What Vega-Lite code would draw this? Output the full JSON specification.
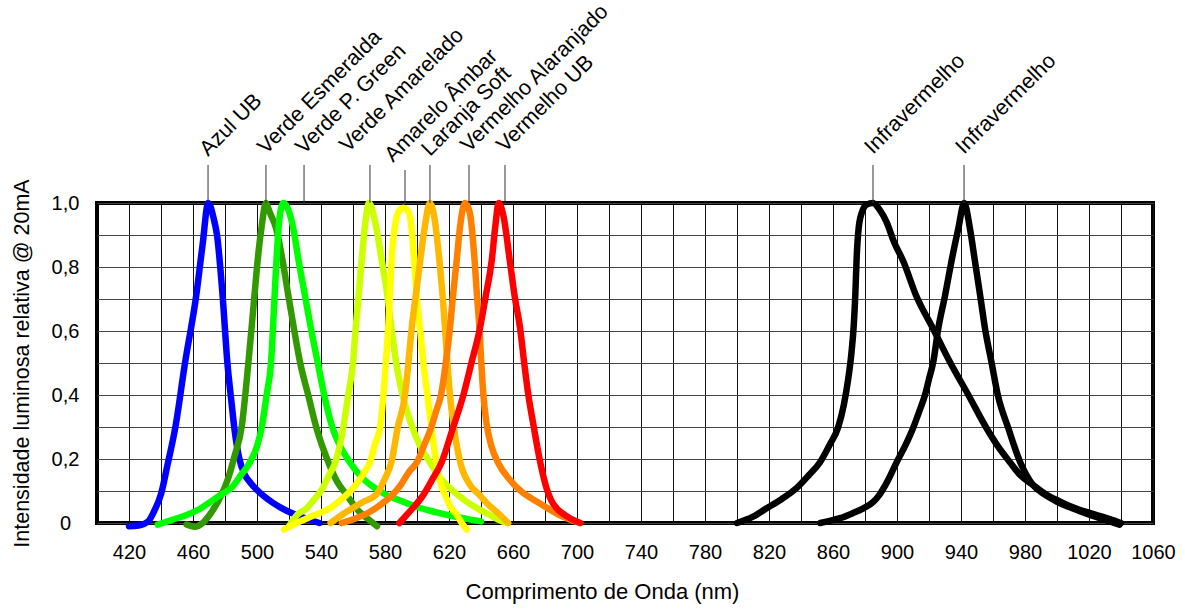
{
  "$schema": "https://vega.github.io/schema/vega-lite/v6.json",
  "autosize": "none",
  "width": 1056,
  "height": 320,
  "padding": {"left": 97, "top": 203, "right": 32, "bottom": 88},
  "background": "white",
  "config": {
    "font": "Liberation Sans",
    "view": {"stroke": "black", "strokeWidth": 4},
    "axis": {"labelFont": "Liberation Sans", "titleFont": "Liberation Sans", "labelColor": "black", "titleColor": "black", "titleFontWeight": "normal"}
  },
  "datasets": {
    "curves": [
      {"s": "Azul UB", "nm": 420, "v": -0.01},
      {"s": "Azul UB", "nm": 426, "v": -0.008},
      {"s": "Azul UB", "nm": 432, "v": 0.005},
      {"s": "Azul UB", "nm": 436, "v": 0.04},
      {"s": "Azul UB", "nm": 440, "v": 0.09},
      {"s": "Azul UB", "nm": 444, "v": 0.18},
      {"s": "Azul UB", "nm": 449, "v": 0.3},
      {"s": "Azul UB", "nm": 455, "v": 0.5},
      {"s": "Azul UB", "nm": 462, "v": 0.71},
      {"s": "Azul UB", "nm": 466, "v": 0.87},
      {"s": "Azul UB", "nm": 469.5, "v": 1.0},
      {"s": "Azul UB", "nm": 473, "v": 0.95},
      {"s": "Azul UB", "nm": 475, "v": 0.9},
      {"s": "Azul UB", "nm": 478.5, "v": 0.71},
      {"s": "Azul UB", "nm": 481.5, "v": 0.5},
      {"s": "Azul UB", "nm": 484, "v": 0.38},
      {"s": "Azul UB", "nm": 486, "v": 0.29},
      {"s": "Azul UB", "nm": 489, "v": 0.2},
      {"s": "Azul UB", "nm": 492, "v": 0.155},
      {"s": "Azul UB", "nm": 496, "v": 0.125},
      {"s": "Azul UB", "nm": 500, "v": 0.103},
      {"s": "Azul UB", "nm": 504, "v": 0.085},
      {"s": "Azul UB", "nm": 510, "v": 0.063},
      {"s": "Azul UB", "nm": 516, "v": 0.045},
      {"s": "Azul UB", "nm": 527, "v": 0.02},
      {"s": "Azul UB", "nm": 539, "v": 0.0},

      {"s": "Verde Esmeralda", "nm": 456, "v": -0.005},
      {"s": "Verde Esmeralda", "nm": 461, "v": -0.012},
      {"s": "Verde Esmeralda", "nm": 466, "v": 0.0},
      {"s": "Verde Esmeralda", "nm": 471.7, "v": 0.035},
      {"s": "Verde Esmeralda", "nm": 477, "v": 0.08},
      {"s": "Verde Esmeralda", "nm": 482, "v": 0.14},
      {"s": "Verde Esmeralda", "nm": 486, "v": 0.21},
      {"s": "Verde Esmeralda", "nm": 490.4, "v": 0.3},
      {"s": "Verde Esmeralda", "nm": 494.6, "v": 0.5},
      {"s": "Verde Esmeralda", "nm": 498.4, "v": 0.71},
      {"s": "Verde Esmeralda", "nm": 501, "v": 0.85},
      {"s": "Verde Esmeralda", "nm": 503, "v": 0.93},
      {"s": "Verde Esmeralda", "nm": 505.5, "v": 1.0},
      {"s": "Verde Esmeralda", "nm": 508, "v": 0.97},
      {"s": "Verde Esmeralda", "nm": 512, "v": 0.92},
      {"s": "Verde Esmeralda", "nm": 516, "v": 0.82},
      {"s": "Verde Esmeralda", "nm": 519.6, "v": 0.71},
      {"s": "Verde Esmeralda", "nm": 523, "v": 0.61},
      {"s": "Verde Esmeralda", "nm": 527, "v": 0.5},
      {"s": "Verde Esmeralda", "nm": 532, "v": 0.4},
      {"s": "Verde Esmeralda", "nm": 537, "v": 0.3},
      {"s": "Verde Esmeralda", "nm": 544.6, "v": 0.19},
      {"s": "Verde Esmeralda", "nm": 550, "v": 0.13},
      {"s": "Verde Esmeralda", "nm": 556, "v": 0.088},
      {"s": "Verde Esmeralda", "nm": 564, "v": 0.035},
      {"s": "Verde Esmeralda", "nm": 570, "v": 0.01},
      {"s": "Verde Esmeralda", "nm": 575, "v": -0.01},

      {"s": "Verde P. Green", "nm": 438, "v": -0.005},
      {"s": "Verde P. Green", "nm": 447, "v": 0.01},
      {"s": "Verde P. Green", "nm": 456, "v": 0.025},
      {"s": "Verde P. Green", "nm": 465, "v": 0.046},
      {"s": "Verde P. Green", "nm": 472, "v": 0.07},
      {"s": "Verde P. Green", "nm": 478, "v": 0.09},
      {"s": "Verde P. Green", "nm": 484, "v": 0.11},
      {"s": "Verde P. Green", "nm": 490, "v": 0.15},
      {"s": "Verde P. Green", "nm": 495.6, "v": 0.19},
      {"s": "Verde P. Green", "nm": 500, "v": 0.24},
      {"s": "Verde P. Green", "nm": 503, "v": 0.3},
      {"s": "Verde P. Green", "nm": 506, "v": 0.4},
      {"s": "Verde P. Green", "nm": 508.75, "v": 0.5},
      {"s": "Verde P. Green", "nm": 511, "v": 0.71},
      {"s": "Verde P. Green", "nm": 512.5, "v": 0.85},
      {"s": "Verde P. Green", "nm": 514, "v": 0.95},
      {"s": "Verde P. Green", "nm": 516.5, "v": 1.0},
      {"s": "Verde P. Green", "nm": 519.5, "v": 0.98},
      {"s": "Verde P. Green", "nm": 522.7, "v": 0.92},
      {"s": "Verde P. Green", "nm": 526, "v": 0.82},
      {"s": "Verde P. Green", "nm": 530, "v": 0.71},
      {"s": "Verde P. Green", "nm": 534, "v": 0.6},
      {"s": "Verde P. Green", "nm": 538, "v": 0.5},
      {"s": "Verde P. Green", "nm": 542, "v": 0.4},
      {"s": "Verde P. Green", "nm": 547, "v": 0.3},
      {"s": "Verde P. Green", "nm": 552, "v": 0.24},
      {"s": "Verde P. Green", "nm": 558, "v": 0.19},
      {"s": "Verde P. Green", "nm": 565, "v": 0.145},
      {"s": "Verde P. Green", "nm": 572, "v": 0.115},
      {"s": "Verde P. Green", "nm": 580, "v": 0.09},
      {"s": "Verde P. Green", "nm": 591, "v": 0.067},
      {"s": "Verde P. Green", "nm": 600, "v": 0.05},
      {"s": "Verde P. Green", "nm": 611, "v": 0.035},
      {"s": "Verde P. Green", "nm": 622, "v": 0.022},
      {"s": "Verde P. Green", "nm": 632, "v": 0.012},
      {"s": "Verde P. Green", "nm": 640, "v": 0.005},

      {"s": "Verde Amarelado", "nm": 520, "v": -0.01},
      {"s": "Verde Amarelado", "nm": 525, "v": 0.025},
      {"s": "Verde Amarelado", "nm": 531, "v": 0.046},
      {"s": "Verde Amarelado", "nm": 536, "v": 0.075},
      {"s": "Verde Amarelado", "nm": 540, "v": 0.1},
      {"s": "Verde Amarelado", "nm": 545, "v": 0.15},
      {"s": "Verde Amarelado", "nm": 549, "v": 0.19},
      {"s": "Verde Amarelado", "nm": 554, "v": 0.3},
      {"s": "Verde Amarelado", "nm": 557, "v": 0.4},
      {"s": "Verde Amarelado", "nm": 560, "v": 0.5},
      {"s": "Verde Amarelado", "nm": 561.7, "v": 0.61},
      {"s": "Verde Amarelado", "nm": 563.5, "v": 0.71},
      {"s": "Verde Amarelado", "nm": 565.4, "v": 0.82},
      {"s": "Verde Amarelado", "nm": 567.5, "v": 0.93},
      {"s": "Verde Amarelado", "nm": 570, "v": 1.0},
      {"s": "Verde Amarelado", "nm": 573, "v": 0.96},
      {"s": "Verde Amarelado", "nm": 578, "v": 0.82},
      {"s": "Verde Amarelado", "nm": 581.5, "v": 0.71},
      {"s": "Verde Amarelado", "nm": 584, "v": 0.61},
      {"s": "Verde Amarelado", "nm": 587, "v": 0.5},
      {"s": "Verde Amarelado", "nm": 591, "v": 0.4},
      {"s": "Verde Amarelado", "nm": 597, "v": 0.3},
      {"s": "Verde Amarelado", "nm": 602, "v": 0.24},
      {"s": "Verde Amarelado", "nm": 608, "v": 0.19},
      {"s": "Verde Amarelado", "nm": 613, "v": 0.15},
      {"s": "Verde Amarelado", "nm": 618.5, "v": 0.119},
      {"s": "Verde Amarelado", "nm": 625, "v": 0.09},
      {"s": "Verde Amarelado", "nm": 631, "v": 0.067},
      {"s": "Verde Amarelado", "nm": 638, "v": 0.045},
      {"s": "Verde Amarelado", "nm": 645.6, "v": 0.025},
      {"s": "Verde Amarelado", "nm": 651, "v": 0.01},
      {"s": "Verde Amarelado", "nm": 656, "v": 0.0},

      {"s": "Amarelo Âmbar", "nm": 517, "v": -0.02},
      {"s": "Amarelo Âmbar", "nm": 527, "v": 0.005},
      {"s": "Amarelo Âmbar", "nm": 536, "v": 0.025},
      {"s": "Amarelo Âmbar", "nm": 545.6, "v": 0.046},
      {"s": "Amarelo Âmbar", "nm": 553, "v": 0.075},
      {"s": "Amarelo Âmbar", "nm": 560, "v": 0.108},
      {"s": "Amarelo Âmbar", "nm": 566, "v": 0.15},
      {"s": "Amarelo Âmbar", "nm": 570.6, "v": 0.19},
      {"s": "Amarelo Âmbar", "nm": 574, "v": 0.25},
      {"s": "Amarelo Âmbar", "nm": 577, "v": 0.3},
      {"s": "Amarelo Âmbar", "nm": 579, "v": 0.4},
      {"s": "Amarelo Âmbar", "nm": 580.5, "v": 0.5},
      {"s": "Amarelo Âmbar", "nm": 582, "v": 0.61},
      {"s": "Amarelo Âmbar", "nm": 583, "v": 0.71},
      {"s": "Amarelo Âmbar", "nm": 584.5, "v": 0.85},
      {"s": "Amarelo Âmbar", "nm": 586, "v": 0.92},
      {"s": "Amarelo Âmbar", "nm": 587.5, "v": 0.96},
      {"s": "Amarelo Âmbar", "nm": 589.5, "v": 0.98},
      {"s": "Amarelo Âmbar", "nm": 591.5, "v": 0.985},
      {"s": "Amarelo Âmbar", "nm": 593.5, "v": 0.98},
      {"s": "Amarelo Âmbar", "nm": 595.5, "v": 0.96},
      {"s": "Amarelo Âmbar", "nm": 597, "v": 0.9},
      {"s": "Amarelo Âmbar", "nm": 598.5, "v": 0.8},
      {"s": "Amarelo Âmbar", "nm": 599.8, "v": 0.71},
      {"s": "Amarelo Âmbar", "nm": 602, "v": 0.6},
      {"s": "Amarelo Âmbar", "nm": 604, "v": 0.5},
      {"s": "Amarelo Âmbar", "nm": 606.5, "v": 0.4},
      {"s": "Amarelo Âmbar", "nm": 609, "v": 0.3},
      {"s": "Amarelo Âmbar", "nm": 612, "v": 0.19},
      {"s": "Amarelo Âmbar", "nm": 615, "v": 0.12},
      {"s": "Amarelo Âmbar", "nm": 617.5, "v": 0.088},
      {"s": "Amarelo Âmbar", "nm": 621, "v": 0.05},
      {"s": "Amarelo Âmbar", "nm": 625, "v": 0.025},
      {"s": "Amarelo Âmbar", "nm": 628, "v": 0.0},
      {"s": "Amarelo Âmbar", "nm": 631, "v": -0.02},

      {"s": "Laranja Soft", "nm": 546, "v": 0.0},
      {"s": "Laranja Soft", "nm": 556, "v": 0.035},
      {"s": "Laranja Soft", "nm": 566, "v": 0.065},
      {"s": "Laranja Soft", "nm": 574.8, "v": 0.09},
      {"s": "Laranja Soft", "nm": 580, "v": 0.14},
      {"s": "Laranja Soft", "nm": 584, "v": 0.19},
      {"s": "Laranja Soft", "nm": 588, "v": 0.3},
      {"s": "Laranja Soft", "nm": 592.5, "v": 0.4},
      {"s": "Laranja Soft", "nm": 594.6, "v": 0.5},
      {"s": "Laranja Soft", "nm": 596.7, "v": 0.61},
      {"s": "Laranja Soft", "nm": 599.2, "v": 0.71},
      {"s": "Laranja Soft", "nm": 602, "v": 0.82},
      {"s": "Laranja Soft", "nm": 605, "v": 0.93},
      {"s": "Laranja Soft", "nm": 608, "v": 1.0},
      {"s": "Laranja Soft", "nm": 611, "v": 0.95},
      {"s": "Laranja Soft", "nm": 614, "v": 0.82},
      {"s": "Laranja Soft", "nm": 616, "v": 0.71},
      {"s": "Laranja Soft", "nm": 617.5, "v": 0.61},
      {"s": "Laranja Soft", "nm": 619, "v": 0.5},
      {"s": "Laranja Soft", "nm": 620.6, "v": 0.4},
      {"s": "Laranja Soft", "nm": 623, "v": 0.3},
      {"s": "Laranja Soft", "nm": 627, "v": 0.19},
      {"s": "Laranja Soft", "nm": 633, "v": 0.12},
      {"s": "Laranja Soft", "nm": 639, "v": 0.088},
      {"s": "Laranja Soft", "nm": 645, "v": 0.055},
      {"s": "Laranja Soft", "nm": 649.8, "v": 0.035},
      {"s": "Laranja Soft", "nm": 654, "v": 0.015},
      {"s": "Laranja Soft", "nm": 657, "v": 0.0},

      {"s": "Vermelho Alaranjado", "nm": 553, "v": 0.0},
      {"s": "Vermelho Alaranjado", "nm": 562, "v": 0.015},
      {"s": "Vermelho Alaranjado", "nm": 570.6, "v": 0.035},
      {"s": "Vermelho Alaranjado", "nm": 578, "v": 0.06},
      {"s": "Vermelho Alaranjado", "nm": 585, "v": 0.09},
      {"s": "Vermelho Alaranjado", "nm": 590, "v": 0.12},
      {"s": "Vermelho Alaranjado", "nm": 595, "v": 0.16},
      {"s": "Vermelho Alaranjado", "nm": 600, "v": 0.19},
      {"s": "Vermelho Alaranjado", "nm": 605, "v": 0.25},
      {"s": "Vermelho Alaranjado", "nm": 609, "v": 0.3},
      {"s": "Vermelho Alaranjado", "nm": 612, "v": 0.35},
      {"s": "Vermelho Alaranjado", "nm": 615, "v": 0.4},
      {"s": "Vermelho Alaranjado", "nm": 618, "v": 0.5},
      {"s": "Vermelho Alaranjado", "nm": 620.6, "v": 0.61},
      {"s": "Vermelho Alaranjado", "nm": 622.5, "v": 0.71},
      {"s": "Vermelho Alaranjado", "nm": 624.8, "v": 0.82},
      {"s": "Vermelho Alaranjado", "nm": 627, "v": 0.93},
      {"s": "Vermelho Alaranjado", "nm": 630, "v": 1.0},
      {"s": "Vermelho Alaranjado", "nm": 633, "v": 0.97},
      {"s": "Vermelho Alaranjado", "nm": 636, "v": 0.82},
      {"s": "Vermelho Alaranjado", "nm": 637.5, "v": 0.71},
      {"s": "Vermelho Alaranjado", "nm": 639, "v": 0.61},
      {"s": "Vermelho Alaranjado", "nm": 640.2, "v": 0.5},
      {"s": "Vermelho Alaranjado", "nm": 641.5, "v": 0.4},
      {"s": "Vermelho Alaranjado", "nm": 643.5, "v": 0.31},
      {"s": "Vermelho Alaranjado", "nm": 646.5, "v": 0.24},
      {"s": "Vermelho Alaranjado", "nm": 651, "v": 0.185},
      {"s": "Vermelho Alaranjado", "nm": 658, "v": 0.135},
      {"s": "Vermelho Alaranjado", "nm": 666, "v": 0.095},
      {"s": "Vermelho Alaranjado", "nm": 674.8, "v": 0.067},
      {"s": "Vermelho Alaranjado", "nm": 682, "v": 0.045},
      {"s": "Vermelho Alaranjado", "nm": 689, "v": 0.025},
      {"s": "Vermelho Alaranjado", "nm": 696, "v": 0.01},
      {"s": "Vermelho Alaranjado", "nm": 702, "v": 0.0},

      {"s": "Vermelho UB", "nm": 589, "v": 0.0},
      {"s": "Vermelho UB", "nm": 593.5, "v": 0.025},
      {"s": "Vermelho UB", "nm": 598, "v": 0.05},
      {"s": "Vermelho UB", "nm": 604, "v": 0.088},
      {"s": "Vermelho UB", "nm": 610, "v": 0.14},
      {"s": "Vermelho UB", "nm": 615.4, "v": 0.19},
      {"s": "Vermelho UB", "nm": 622, "v": 0.29},
      {"s": "Vermelho UB", "nm": 629, "v": 0.4},
      {"s": "Vermelho UB", "nm": 634, "v": 0.5},
      {"s": "Vermelho UB", "nm": 639.4, "v": 0.61},
      {"s": "Vermelho UB", "nm": 643, "v": 0.71},
      {"s": "Vermelho UB", "nm": 646.7, "v": 0.82},
      {"s": "Vermelho UB", "nm": 649, "v": 0.93},
      {"s": "Vermelho UB", "nm": 651, "v": 1.0},
      {"s": "Vermelho UB", "nm": 654, "v": 0.96},
      {"s": "Vermelho UB", "nm": 658, "v": 0.82},
      {"s": "Vermelho UB", "nm": 661, "v": 0.71},
      {"s": "Vermelho UB", "nm": 664.4, "v": 0.61},
      {"s": "Vermelho UB", "nm": 667, "v": 0.5},
      {"s": "Vermelho UB", "nm": 669.6, "v": 0.4},
      {"s": "Vermelho UB", "nm": 673, "v": 0.3},
      {"s": "Vermelho UB", "nm": 677, "v": 0.19},
      {"s": "Vermelho UB", "nm": 681, "v": 0.108},
      {"s": "Vermelho UB", "nm": 684, "v": 0.07},
      {"s": "Vermelho UB", "nm": 687.3, "v": 0.046},
      {"s": "Vermelho UB", "nm": 691, "v": 0.03},
      {"s": "Vermelho UB", "nm": 695.6, "v": 0.015},
      {"s": "Vermelho UB", "nm": 702, "v": 0.0},

      {"s": "Infravermelho 1", "nm": 800, "v": 0.0},
      {"s": "Infravermelho 1", "nm": 810, "v": 0.02},
      {"s": "Infravermelho 1", "nm": 818.5, "v": 0.046},
      {"s": "Infravermelho 1", "nm": 828, "v": 0.075},
      {"s": "Infravermelho 1", "nm": 837, "v": 0.108},
      {"s": "Infravermelho 1", "nm": 845, "v": 0.15},
      {"s": "Infravermelho 1", "nm": 851.9, "v": 0.19},
      {"s": "Infravermelho 1", "nm": 858, "v": 0.245},
      {"s": "Infravermelho 1", "nm": 863.3, "v": 0.3},
      {"s": "Infravermelho 1", "nm": 866.8, "v": 0.37},
      {"s": "Infravermelho 1", "nm": 869.5, "v": 0.45},
      {"s": "Infravermelho 1", "nm": 871.5, "v": 0.53},
      {"s": "Infravermelho 1", "nm": 873, "v": 0.62},
      {"s": "Infravermelho 1", "nm": 874, "v": 0.72},
      {"s": "Infravermelho 1", "nm": 874.8, "v": 0.83},
      {"s": "Infravermelho 1", "nm": 876, "v": 0.92},
      {"s": "Infravermelho 1", "nm": 878, "v": 0.97},
      {"s": "Infravermelho 1", "nm": 881, "v": 0.995},
      {"s": "Infravermelho 1", "nm": 885, "v": 1.0},
      {"s": "Infravermelho 1", "nm": 889, "v": 0.98},
      {"s": "Infravermelho 1", "nm": 893.5, "v": 0.94},
      {"s": "Infravermelho 1", "nm": 898, "v": 0.88},
      {"s": "Infravermelho 1", "nm": 904, "v": 0.817},
      {"s": "Infravermelho 1", "nm": 912, "v": 0.71},
      {"s": "Infravermelho 1", "nm": 922.5, "v": 0.608},
      {"s": "Infravermelho 1", "nm": 933, "v": 0.504},
      {"s": "Infravermelho 1", "nm": 944.6, "v": 0.4},
      {"s": "Infravermelho 1", "nm": 956, "v": 0.296},
      {"s": "Infravermelho 1", "nm": 963, "v": 0.24},
      {"s": "Infravermelho 1", "nm": 970.6, "v": 0.19},
      {"s": "Infravermelho 1", "nm": 977, "v": 0.15},
      {"s": "Infravermelho 1", "nm": 985, "v": 0.119},
      {"s": "Infravermelho 1", "nm": 993, "v": 0.09},
      {"s": "Infravermelho 1", "nm": 1002, "v": 0.067},
      {"s": "Infravermelho 1", "nm": 1012, "v": 0.045},
      {"s": "Infravermelho 1", "nm": 1024.8, "v": 0.025},
      {"s": "Infravermelho 1", "nm": 1033, "v": 0.012},
      {"s": "Infravermelho 1", "nm": 1040, "v": 0.0},

      {"s": "Infravermelho 2", "nm": 852, "v": 0.0},
      {"s": "Infravermelho 2", "nm": 864.4, "v": 0.015},
      {"s": "Infravermelho 2", "nm": 872, "v": 0.03},
      {"s": "Infravermelho 2", "nm": 879, "v": 0.046},
      {"s": "Infravermelho 2", "nm": 885, "v": 0.065},
      {"s": "Infravermelho 2", "nm": 889, "v": 0.088},
      {"s": "Infravermelho 2", "nm": 894, "v": 0.13},
      {"s": "Infravermelho 2", "nm": 899.8, "v": 0.19},
      {"s": "Infravermelho 2", "nm": 905, "v": 0.24},
      {"s": "Infravermelho 2", "nm": 910, "v": 0.296},
      {"s": "Infravermelho 2", "nm": 914, "v": 0.35},
      {"s": "Infravermelho 2", "nm": 917.5, "v": 0.4},
      {"s": "Infravermelho 2", "nm": 920, "v": 0.45},
      {"s": "Infravermelho 2", "nm": 922.7, "v": 0.504},
      {"s": "Infravermelho 2", "nm": 925.8, "v": 0.608},
      {"s": "Infravermelho 2", "nm": 930, "v": 0.71},
      {"s": "Infravermelho 2", "nm": 934, "v": 0.817},
      {"s": "Infravermelho 2", "nm": 938.3, "v": 0.92},
      {"s": "Infravermelho 2", "nm": 942, "v": 1.0},
      {"s": "Infravermelho 2", "nm": 945.6, "v": 0.92},
      {"s": "Infravermelho 2", "nm": 948.75, "v": 0.817},
      {"s": "Infravermelho 2", "nm": 952, "v": 0.71},
      {"s": "Infravermelho 2", "nm": 955, "v": 0.608},
      {"s": "Infravermelho 2", "nm": 959, "v": 0.504},
      {"s": "Infravermelho 2", "nm": 963, "v": 0.4},
      {"s": "Infravermelho 2", "nm": 969.6, "v": 0.296},
      {"s": "Infravermelho 2", "nm": 977, "v": 0.19},
      {"s": "Infravermelho 2", "nm": 985, "v": 0.119},
      {"s": "Infravermelho 2", "nm": 992, "v": 0.09},
      {"s": "Infravermelho 2", "nm": 999.8, "v": 0.067},
      {"s": "Infravermelho 2", "nm": 1010, "v": 0.045},
      {"s": "Infravermelho 2", "nm": 1020.6, "v": 0.025},
      {"s": "Infravermelho 2", "nm": 1030, "v": 0.01},
      {"s": "Infravermelho 2", "nm": 1039, "v": -0.005}
    ],
    "labels": [
      {"label": "Azul UB", "tnm": 469.4, "ty": 1.144, "lnm": 469.4, "lb": 1.0, "ly": 1.119},
      {"label": "Verde Esmeralda", "tnm": 505.6, "ty": 1.15, "lnm": 505.6, "lb": 1.0, "ly": 1.119},
      {"label": "Verde P. Green", "tnm": 529.4, "ty": 1.15, "lnm": 529.4, "lb": 1.0, "ly": 1.119},
      {"label": "Verde Amarelado", "tnm": 556.9, "ty": 1.156, "lnm": 570.6, "lb": 1.0, "ly": 1.119},
      {"label": "Amarelo Âmbar", "tnm": 585, "ty": 1.125, "lnm": 592.5, "lb": 1.0, "ly": 1.103},
      {"label": "Laranja Soft", "tnm": 608.1, "ty": 1.144, "lnm": 608.1, "lb": 1.0, "ly": 1.119},
      {"label": "Vermelho Alaranjado", "tnm": 632.5, "ty": 1.156, "lnm": 632.5, "lb": 1.0, "ly": 1.119},
      {"label": "Vermelho UB", "tnm": 655, "ty": 1.156, "lnm": 655, "lb": 1.0, "ly": 1.119},
      {"label": "Infravermelho", "tnm": 885, "ty": 1.15, "lnm": 885, "lb": 1.0, "ly": 1.119},
      {"label": "Infravermelho", "tnm": 941.9, "ty": 1.15, "lnm": 941.9, "lb": 1.0, "ly": 1.119}
    ]
  },
  "layer": [
    {
      "data": {"name": "curves"},
      "mark": {"type": "line", "strokeWidth": 6.5, "interpolate": "monotone", "clip": false, "strokeCap": "round", "strokeJoin": "round"},
      "encoding": {
        "x": {
          "field": "nm", "type": "quantitative",
          "scale": {"domain": [400, 1060], "nice": false, "zero": false},
          "axis": {
            "title": "Comprimento de Onda (nm)",
            "values": [420, 440, 460, 480, 500, 520, 540, 560, 580, 600, 620, 640, 660, 680, 700, 720, 740, 760, 780, 800, 820, 840, 860, 880, 900, 920, 940, 960, 980, 1000, 1020, 1040, 1060],
            "tickCount": 200,
            "format": "d",
            "labelOpacity": {"condition": {"test": "(datum.value - 420) % 40 === 0", "value": 1}, "value": 0},
            "labelFontSize": 20,
            "labelPadding": 19,
            "labelFlush": false,
            "labelOverlap": false,
            "labelBound": false,
            "titleFontSize": 22,
            "titlePadding": 19,
            "titleX": 505,
            "ticks": false,
            "tickSize": 0,
            "domain": false,
            "grid": true,
            "gridColor": "#111111",
            "gridWidth": 1,
            "gridOpacity": 1
          }
        },
        "y": {
          "field": "v", "type": "quantitative",
          "scale": {"domain": [0, 1], "nice": false, "zero": false},
          "axis": {
            "title": "Intensidade luminosa relativa @ 20mA",
            "values": [0, 0.1, 0.2, 0.3, 0.4, 0.5, 0.6, 0.7, 0.8, 0.9, 1],
            "tickCount": 200,
            "labelExpr": "datum.value === 0 ? '0' : replace(format(datum.value, '.1f'), '.', ',')",
            "labelOpacity": {"condition": {"test": "round(datum.value * 10) % 2 === 0", "value": 1}, "value": 0},
            "labelFontSize": 20,
            "labelAlign": "center",
            "labelPadding": 32,
            "labelFlush": false,
            "labelOverlap": false,
            "titleFontSize": 21.5,
            "titlePadding": 18,
            "ticks": false,
            "tickSize": 0,
            "domain": false,
            "grid": true,
            "gridColor": "#444444",
            "gridWidth": 1,
            "gridOpacity": 1
          }
        },
        "color": {
          "field": "s", "type": "nominal", "legend": null,
          "scale": {
            "domain": ["Azul UB", "Verde Esmeralda", "Verde P. Green", "Verde Amarelado", "Amarelo Âmbar", "Laranja Soft", "Vermelho Alaranjado", "Vermelho UB", "Infravermelho 1", "Infravermelho 2"],
            "range": ["#0000ff", "#339900", "#00ff00", "#ccff00", "#ffff00", "#ffb800", "#ff8000", "#ff0000", "#000000", "#000000"]
          }
        }
      }
    },
    {
      "data": {"name": "labels"},
      "mark": {"type": "rule", "color": "#333333", "strokeWidth": 1, "clip": false},
      "encoding": {
        "x": {"field": "lnm", "type": "quantitative"},
        "y": {"field": "lb", "type": "quantitative"},
        "y2": {"field": "ly"}
      }
    },
    {
      "data": {"name": "labels"},
      "mark": {"type": "text", "font": "Liberation Sans", "fontSize": 21.5, "angle": -45, "align": "left", "baseline": "alphabetic", "color": "black", "clip": false},
      "encoding": {
        "x": {"field": "tnm", "type": "quantitative"},
        "y": {"field": "ty", "type": "quantitative"},
        "text": {"field": "label"}
      }
    }
  ]
}
